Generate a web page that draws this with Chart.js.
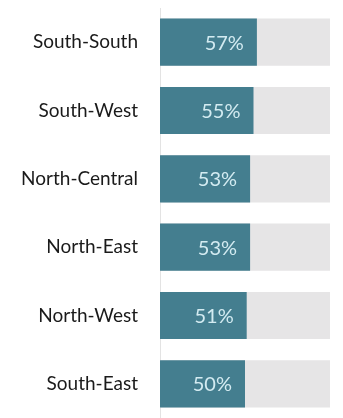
<!DOCTYPE html>
<html>
<head>
<meta charset="utf-8">
<script src="https://cdn.jsdelivr.net/npm/chart.js@4"></script>
<style>
  html, body { margin: 0; padding: 0; background: #fff; overflow: hidden; }
  #wrap { width: 343px; height: 418px; }
</style>
</head>
<body>
<div id="wrap"><canvas id="chart" width="343" height="418"></canvas></div>
<script>
// regions, top to bottom
const regions = ["South-South", "South-West", "North-Central", "North-East", "North-West", "South-East"];
const shares = [57, 55, 53, 53, 51, 50];   // percent
const track = [100, 100, 100, 100, 100, 100]; // grey background bars

const teal = "#447e8f";
const grey = "#e6e5e6";

// draws "57%" etc. inside the right end of each teal bar
const valueLabels = {
  id: "valueLabels",
  afterDatasetsDraw(chart) {
    const ctx = chart.ctx;
    const meta = chart.getDatasetMeta(0);
    ctx.save();
    ctx.font = "20px Lato";
    ctx.fillStyle = "#d3ebf1";
    ctx.textAlign = "right";
    ctx.textBaseline = "middle";
    meta.data.forEach((bar, i) => {
      ctx.fillText(shares[i] + "%", bar.x - 13, bar.y + 1);
    });
    ctx.restore();
  },
};

new Chart(document.getElementById("chart"), {
  type: "bar",
  data: {
    labels: regions,
    datasets: [
      { data: shares, backgroundColor: teal, order: 1, grouped: false },
      { data: track, backgroundColor: grey, order: 2, grouped: false },
    ],
  },
  options: {
    indexAxis: "y",
    responsive: false,
    animation: false,
    layout: { padding: { top: 8, right: 13, bottom: 0, left: 0 } },
    datasets: { bar: { categoryPercentage: 1, barPercentage: 0.69 } },
    scales: {
      x: { display: false, min: 0, max: 100 },
      y: {
        afterFit: (scale) => {
          scale.width = 160;
          scale.paddingTop = 0;
          scale.paddingBottom = 0;
        },
        grid: { display: false, drawTicks: false },
        border: { display: true, color: "#e3e3e3", width: 1 },
        ticks: { padding: 22, color: "#1a1a1a", font: { family: "Lato", size: 19 } },
      },
    },
    plugins: { legend: { display: false }, tooltip: { enabled: false } },
  },
  plugins: [valueLabels],
});
</script>
</body>
</html>
